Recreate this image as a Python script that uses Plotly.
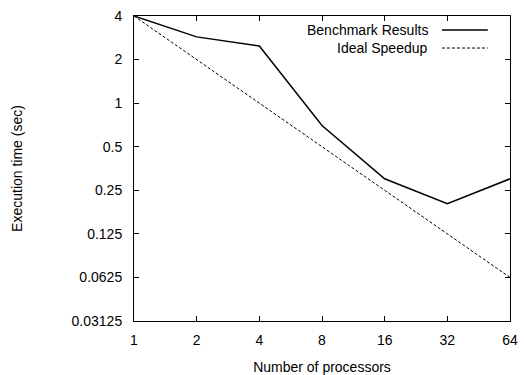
import plotly.graph_objects as go
import math

processors = [1, 2, 4, 8, 16, 32, 64]
benchmark = [4.0, 2.87, 2.48, 0.70, 0.30, 0.202, 0.30]
ideal = [4.0, 2.0, 1.0, 0.5, 0.25, 0.125, 0.0625]
y_ticks = [0.03125, 0.0625, 0.125, 0.25, 0.5, 1, 2, 4]
y_tick_labels = ["0.03125", "0.0625", "0.125", "0.25", "0.5", "1", "2", "4"]
x_tick_labels = ["1", "2", "4", "8", "16", "32", "64"]
series_names = ["Benchmark Results", "Ideal Speedup"]

FAM = "Liberation Sans, Arial, sans-serif"
font = dict(family=FAM, size=14, color="black")

fig = go.Figure()
fig.add_trace(go.Scatter(x=processors, y=benchmark, mode="lines",
                         line=dict(color="black", width=1.5), name=series_names[0],
                         showlegend=False))
fig.add_trace(go.Scatter(x=processors, y=ideal, mode="lines",
                         line=dict(color="black", width=1, dash="3px,2px"), name=series_names[1],
                         showlegend=False))

# legend drawn gnuplot-style: text on the left, sample line on the right
leg_y = [0.954, 0.895]
dashes = ["solid", "3px,2px"]
widths = [1.5, 1]
for name, yy, d, w in zip(series_names, leg_y, dashes, widths):
    fig.add_annotation(xref="paper", yref="paper", x=0.788, y=yy, text=name,
                       showarrow=False, xanchor="right", yanchor="middle",
                       font=dict(family=FAM, size=14, color="black"))
    fig.add_shape(type="line", xref="paper", yref="paper", x0=0.819, x1=0.941, y0=yy, y1=yy,
                  line=dict(color="black", width=w, dash=d))

axis_common = dict(type="log", showgrid=False, zeroline=False, showline=True, mirror="allticks",
                   linecolor="black", linewidth=1, ticks="inside", ticklen=5, tickcolor="black",
                   tickfont=font, automargin=False)

fig.update_xaxes(**axis_common, range=[0, math.log10(64)], tickvals=processors, ticktext=x_tick_labels,
                 ticklabelstandoff=6,
                 title=dict(text="Number of processors", font=dict(family=FAM, size=14),
                            standoff=18))
fig.update_yaxes(**axis_common, range=[math.log10(0.03125), math.log10(4)], tickvals=y_ticks,
                 ticktext=y_tick_labels, ticklabelstandoff=8,
                 title=dict(text="Execution time (sec)", font=dict(family=FAM, size=14),
                            standoff=45))

fig.update_layout(width=524, height=375, margin=dict(l=134, r=14, t=16, b=54),
                  paper_bgcolor="white", plot_bgcolor="white", font=font)

fig.write_html("out.html")
